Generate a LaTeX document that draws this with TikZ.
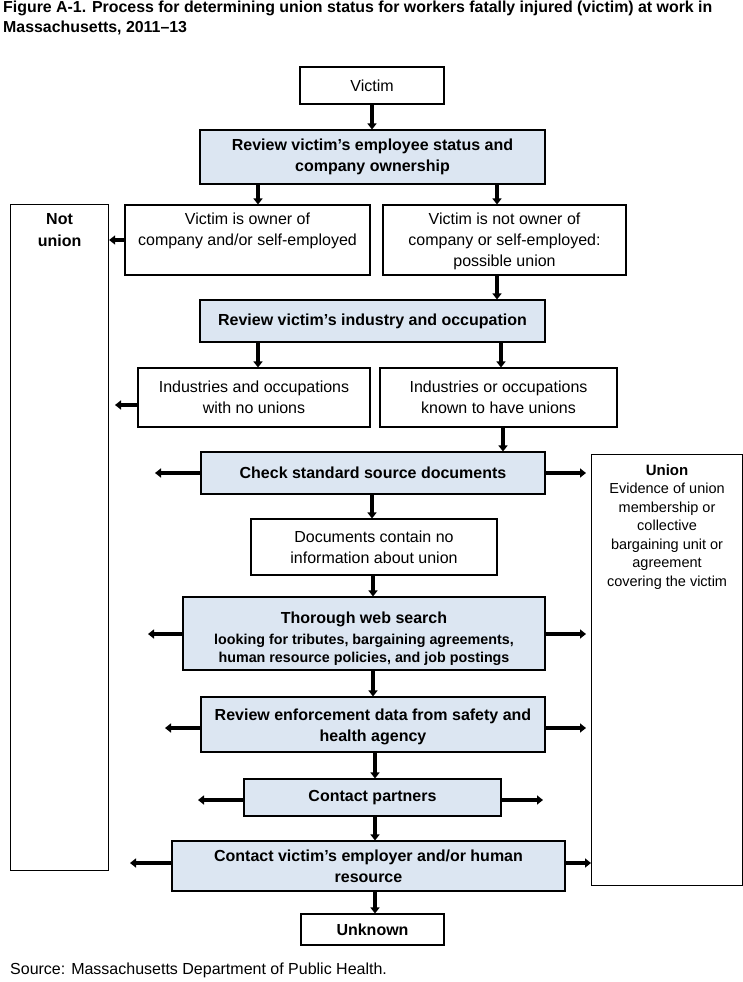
\documentclass[tikz,border=0pt]{standalone}
\usepackage{fontspec}
\setmainfont{Liberation Sans}
\usetikzlibrary{arrows.meta}
\definecolor{boxblue}{RGB}{220,230,242}
\begin{document}
\begin{tikzpicture}[x=1pt,y=-1pt,
  box/.style={draw=black,line width=1.1pt,inner sep=0pt,align=center,font=\fontsize{16}{21}\selectfont},
  bbox/.style={box,fill=boxblue,font=\fontsize{16}{21}\selectfont\bfseries},
  arr/.style={line width=3.3pt,-{Triangle[length=6pt,width=9pt]}}]
\useasboundingbox (0,0) rectangle (743,982);
% title
\node[anchor=north west,inner sep=0pt,align=left,font=\fontsize{15.9}{20}\selectfont\bfseries] (title) at (3,0)
  {\rule{0pt}{12.5pt}Figure A-1. Process for determining union status for workers fatally injured (victim) at work in\\Massachusetts, 2011--13};
% boxes
\node[box,minimum width=144,minimum height=37] (victim) at (372,85.5) {Victim};
\node[bbox,minimum width=345,minimum height=54] (review) at (372.5,157) {Review victim’s employee status and\\company ownership};
\node[box,minimum width=245,minimum height=70] (owner) at (247.5,240) {Victim is owner of\\company and/or self-employed\\\mbox{}};
\node[box,minimum width=243,minimum height=70] (notowner) at (504.5,240) {\rule{0pt}{14pt}Victim is not owner of\\company or self-employed:\\possible union};
\node[box,minimum width=98,minimum height=666,anchor=north west] (notunion) at (10,204)
  {\parbox[t][660pt][t]{98pt}{\centering\fontsize{16}{22}\selectfont\bfseries\rule{0pt}{17pt}Not\\union}};
\node[bbox,minimum width=345,minimum height=42] (industry) at (372.5,321) {Review victim’s industry and occupation};
\node[box,minimum width=232,minimum height=59] (nounion) at (254,397.5) {Industries and occupations\\with no unions};
\node[box,minimum width=237,minimum height=59] (known) at (498.5,397.5) {Industries or occupations\\known to have unions};
\node[bbox,minimum width=344,minimum height=42] (check) at (373,473) {Check standard source documents};
\node[box,minimum width=151,minimum height=431,anchor=north west] (union) at (591,454)
  {\parbox[t][425pt][t]{151pt}{\centering\fontsize{14.5}{18.5}\selectfont\rule{0pt}{17.5pt}{\fontsize{15}{20}\selectfont\bfseries Union}\\Evidence of union\\membership or\\collective\\bargaining unit or\\agreement\\covering the victim}};
\node[box,minimum width=246,minimum height=56] (docs) at (374,547) {Documents contain no\\information about union};
\node[bbox,minimum width=362,minimum height=73] (thorough) at (364,633.5)
  {\rule{0pt}{22pt}Thorough web search\\[0pt]{\fontsize{14.3}{17.5}\selectfont looking for tributes, bargaining agreements,}\\[-3.5pt]{\fontsize{14.3}{17.5}\selectfont human resource policies, and job postings}};
\node[bbox,minimum width=344,minimum height=55] (enforce) at (373,724.5) {\rule{0pt}{16pt}Review enforcement data from safety and\\health agency};
\node[bbox,minimum width=257,minimum height=37] (partners) at (372.5,797.5) {Contact partners};
\node[bbox,minimum width=393,minimum height=50] (employer) at (368.5,866) {Contact victim’s employer and/or human\\resource};
\node[box,minimum width=143,minimum height=31,font=\fontsize{16}{21}\selectfont\bfseries] (unknown) at (372.5,929.5) {Unknown};
% source
\node[anchor=base west,inner sep=0pt,font=\fontsize{16}{20}\selectfont] (source) at (10,974) {Source: Massachusetts Department of Public Health.};
% column coordinates
\coordinate (c1) at (372,0);
\coordinate (c2) at (258,0);
\coordinate (c3) at (497,0);
\coordinate (c4) at (501,0);
\coordinate (c5) at (503,0);
\coordinate (c6) at (373,0);
\coordinate (c7) at (375,0);
% free ends
\coordinate (lnu) at (115,405);
\coordinate (lch) at (155,473);
\coordinate (rch) at (586,473);
\coordinate (lth) at (148,634);
\coordinate (rth) at (586,634);
\coordinate (len) at (165,728);
\coordinate (ren) at (586,728);
\coordinate (lpa) at (198,800);
\coordinate (rpa) at (543,800);
\coordinate (lem) at (130,863);
% down arrows
\draw[arr] (victim.south -| c1) -- (review.north -| c1);
\draw[arr] (review.south -| c2) -- (owner.north -| c2);
\draw[arr] (review.south -| c3) -- (notowner.north -| c3);
\draw[arr] (notowner.south -| c3) -- (industry.north -| c3);
\draw[arr] (industry.south -| c2) -- (nounion.north -| c2);
\draw[arr] (industry.south -| c4) -- (known.north -| c4);
\draw[arr] (known.south -| c5) -- (check.north -| c5);
\draw[arr] (check.south -| c1) -- (docs.north -| c1);
\draw[arr] (docs.south -| c6) -- (thorough.north -| c6);
\draw[arr] (thorough.south -| c6) -- (enforce.north -| c6);
\draw[arr] (enforce.south -| c7) -- (partners.north -| c7);
\draw[arr] (partners.south -| c7) -- (employer.north -| c7);
\draw[arr] (employer.south -| c7) -- (unknown.north -| c7);
% side arrows
\draw[arr] (owner.west) -- (owner.west -| notunion.east);
\draw[arr] (nounion.west |- lnu) -- (lnu);
\draw[arr] (check.west) -- (lch);
\draw[arr] (check.east) -- (rch);
\draw[arr] (thorough.west |- lth) -- (lth);
\draw[arr] (thorough.east |- rth) -- (rth);
\draw[arr] (enforce.west |- len) -- (len);
\draw[arr] (enforce.east |- ren) -- (ren);
\draw[arr] (partners.west |- lpa) -- (lpa);
\draw[arr] (partners.east |- rpa) -- (rpa);
\draw[arr] (employer.west |- lem) -- (lem);
\draw[arr] (employer.east |- lem) -- (employer.east |- lem -| union.west);
\end{tikzpicture}
\end{document}
